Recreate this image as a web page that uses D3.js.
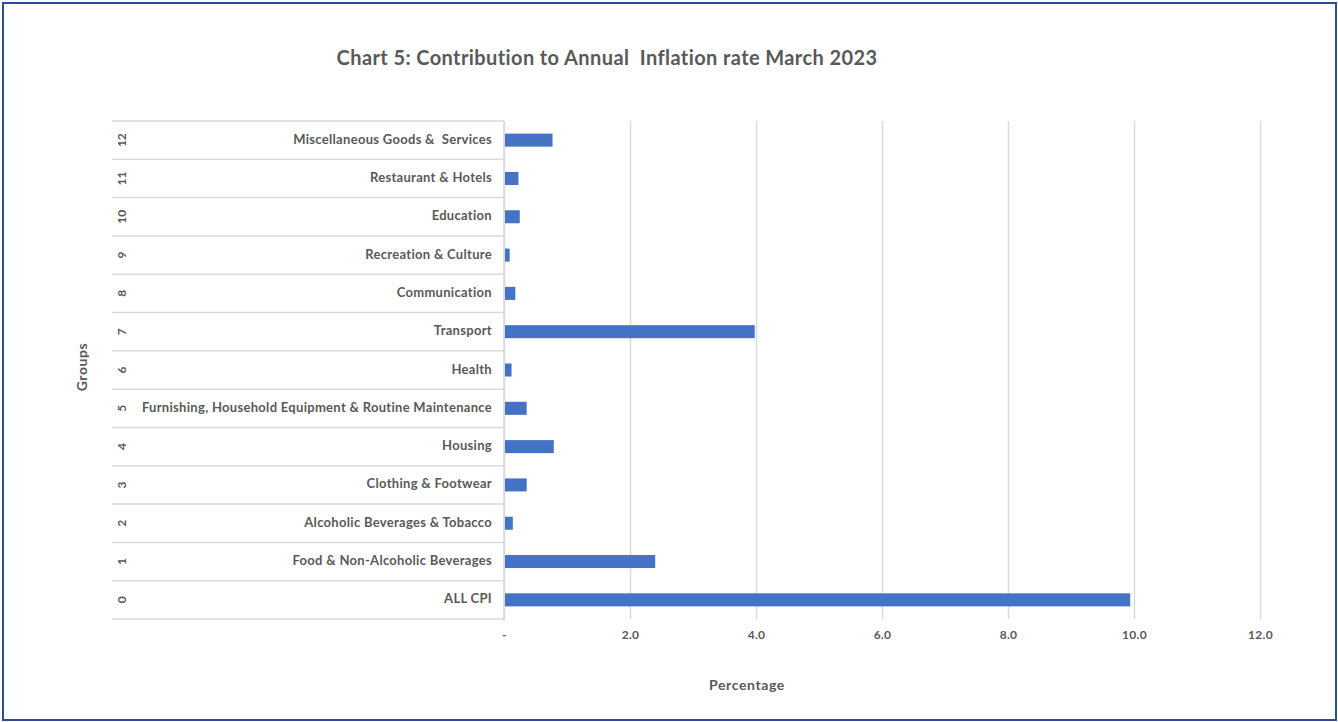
<!DOCTYPE html>
<html>
<head>
<meta charset="utf-8">
<script src="https://cdn.jsdelivr.net/npm/d3@7"></script>
<style>
  body { margin: 0; background: #fff; }
  svg text { font-family: "Lato", "DejaVu Sans", sans-serif; fill: #595959; font-weight: bold; }
</style>
</head>
<body>
<svg id="chart" width="1338" height="722"></svg>
<script>
// Groups, bottom to top as in the picture
const groupCodes = [0, 1, 2, 3, 4, 5, 6, 7, 8, 9, 10, 11, 12];
const groupNames = [
    "ALL CPI",
    "Food & Non-Alcoholic Beverages",
    "Alcoholic Beverages & Tobacco",
    "Clothing & Footwear",
    "Housing",
    "Furnishing, Household Equipment & Routine Maintenance",
    "Health",
    "Transport",
    "Communication",
    "Recreation & Culture",
    "Education",
    "Restaurant & Hotels",
    "Miscellaneous Goods &  Services"
];
// contribution to annual inflation, percentage points
const contributions = [9.94, 2.40, 0.14, 0.36, 0.79, 0.36, 0.12, 3.98, 0.18, 0.09, 0.25, 0.23, 0.77];
const xTicks = [0, 2, 4, 6, 8, 10, 12];

const margin = {top: 121, right: 78, bottom: 103, left: 504};
const W = 1338, H = 722;
const w = W - margin.left - margin.right;
const h = H - margin.top - margin.bottom;

const svg = d3.select("#chart");

// outer frame
svg.append("rect")
    .attr("x", 3).attr("y", 3)
    .attr("width", W - 5).attr("height", H - 5)
    .attr("fill", "none")
    .attr("stroke", "#2F4B9B")
    .attr("stroke-width", 2);

const g = svg.append("g")
    .attr("transform", "translate(" + margin.left + "," + margin.top + ")");

const x = d3.scaleLinear().domain([0, 12]).range([0, w]);
const y = d3.scaleBand()
    .domain(groupCodes.slice().reverse())
    .range([0, h])
    .paddingInner(0.66)
    .paddingOuter(0.33);

// vertical grid
g.append("g")
    .attr("class", "grid")
    .call(d3.axisBottom(x).tickValues(xTicks).tickSize(h).tickFormat(""))
    .call(s => s.select(".domain").remove())
    .call(s => s.selectAll("line").attr("stroke", "#d9d9d9").attr("stroke-width", 1.5));

// x tick labels
g.append("g")
    .attr("transform", "translate(0," + h + ")")
    .call(d3.axisBottom(x).tickValues(xTicks).tickSize(0).tickPadding(11)
        .tickFormat(d => d === 0 ? "-" : d.toFixed(1)))
    .call(s => s.select(".domain").remove())
    .call(s => s.selectAll("text")
        .style("font-size", "12px")
        .style("letter-spacing", "0.3px")
        .attr("fill", "#595959"));

// row separators across the category label area
const step = y.step();
const bounds = groupCodes.map(c => y(c) + y.bandwidth() / 2 - step / 2).concat([h]);
g.selectAll(".rowline")
    .data(bounds)
    .enter()
    .append("line")
        .attr("class", "rowline")
        .attr("x1", 112 - margin.left)
        .attr("x2", 0)
        .attr("y1", d => d)
        .attr("y2", d => d)
        .attr("stroke", "#d9d9d9")
        .attr("stroke-width", 1.5);

// axis line at zero
g.append("line")
    .attr("x1", 0).attr("x2", 0)
    .attr("y1", 0).attr("y2", h + 2)
    .attr("stroke", "#d9d9d9")
    .attr("stroke-width", 1.5);

// bars
g.selectAll(".bar")
    .data(groupCodes)
    .enter()
    .append("rect")
        .attr("class", "bar")
        .attr("x", x(0) + 1)
        .attr("y", d => y(d))
        .attr("width", d => x(contributions[d]) - x(0) - 1)
        .attr("height", y.bandwidth())
        .attr("fill", "#4472C4");

// category names
g.selectAll(".catname")
    .data(groupCodes)
    .enter()
    .append("text")
        .attr("class", "catname")
        .attr("x", -12)
        .attr("y", d => y(d) + y.bandwidth() / 2 - 1)
        .attr("dy", "0.35em")
        .attr("text-anchor", "end")
        .style("font-size", "13px")
        .style("letter-spacing", "0.3px")
        .style("white-space", "pre")
        .text(d => groupNames[d]);

// group codes, rotated
g.selectAll(".catcode")
    .data(groupCodes)
    .enter()
    .append("text")
        .attr("class", "catcode")
        .attr("transform", d => "translate(" + (122 - margin.left) + "," + (y(d) + y.bandwidth() / 2) + ") rotate(-90)")
        .attr("dy", "0.35em")
        .attr("text-anchor", "middle")
        .style("font-size", "12px")
        .text(d => d);

// title
svg.append("text")
    .attr("x", 607)
    .attr("y", 65)
    .attr("text-anchor", "middle")
    .style("font-size", "20px")
    .style("letter-spacing", "0.4px")
    .style("white-space", "pre")
    .text("Chart 5: Contribution to Annual  Inflation rate March 2023");

// axis titles
svg.append("text")
    .attr("x", 747)
    .attr("y", 690)
    .attr("text-anchor", "middle")
    .style("font-size", "14px")
    .style("letter-spacing", "0.6px")
    .text("Percentage");

svg.append("text")
    .attr("transform", "translate(87,367) rotate(-90)")
    .attr("text-anchor", "middle")
    .style("font-size", "14px")
    .style("letter-spacing", "0.6px")
    .text("Groups");
</script>
</body>
</html>
